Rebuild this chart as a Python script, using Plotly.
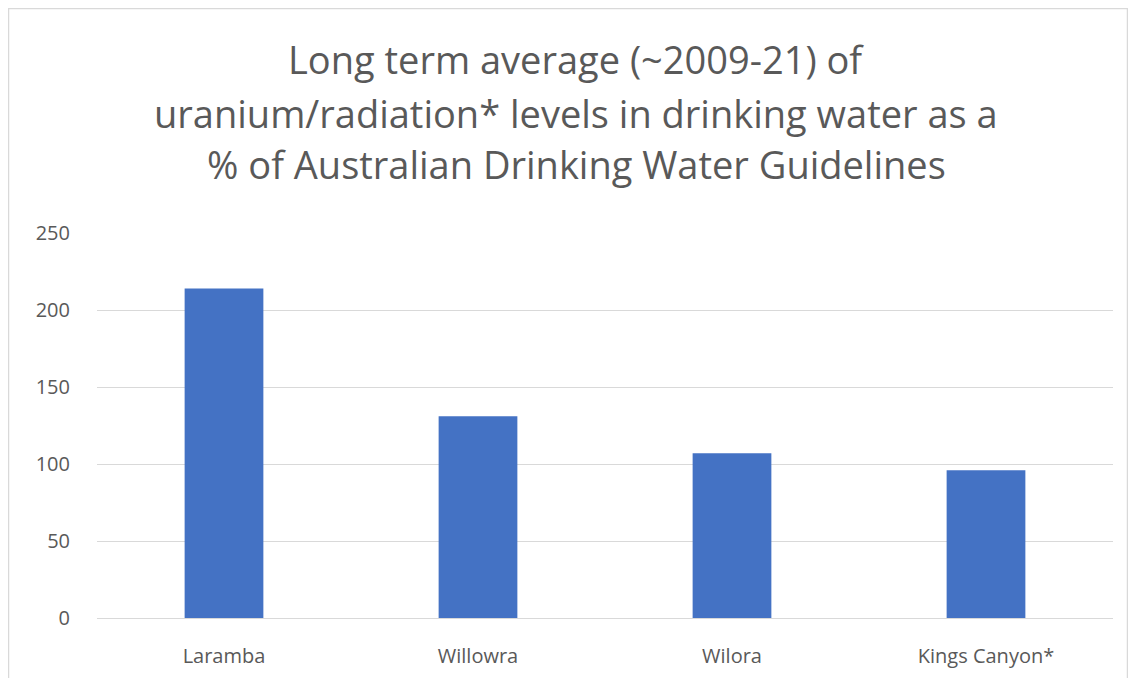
import plotly.graph_objects as go

categories = ["Laramba", "Willowra", "Wilora", "Kings Canyon*"]
values = [214, 131, 107, 96]
y_ticks = [0, 50, 100, 150, 200, 250]
title_lines = [
    "Long term average (~2009-21) of",
    "uranium/radiation* levels in drinking water as a",
    "% of Australian Drinking Water Guidelines",
]

# page body has an 8px margin, so figure is placed at (8, 8)
OFF = 8
W, H = 1120, 670
L, R, T, B = 97 - OFF, 15, 233 - OFF, 60
pw, ph = W - L - R, H - T - B

fig = go.Figure()
fig.add_trace(go.Bar(x=categories, y=values, marker=dict(color="#4472C4", line=dict(width=0)), width=0.31))

fig.update_layout(
    width=W, height=H,
    margin=dict(l=L, r=R, t=T, b=B),
    paper_bgcolor="white", plot_bgcolor="white",
    showlegend=False,
    font=dict(family="Open Sans", color="#595959"),
    xaxis=dict(showgrid=False, showline=False, ticks="", tickfont=dict(size=20, color="#595959"),
               ticklabelstandoff=24, fixedrange=True, automargin=False),
    yaxis=dict(range=[0, 250], tickvals=y_ticks, showgrid=True, gridcolor="#d9d9d9", gridwidth=1,
               zeroline=True, zerolinecolor="#d9d9d9", zerolinewidth=1, automargin=False,
               tickfont=dict(size=20, color="#595959"), ticks="", ticklabelstandoff=26),
)

# pixel helpers (page coordinates -> paper coordinates)
def px_x(p):
    return (p - OFF - L) / pw
def px_y(p):
    return (H - B - (p - OFF)) / ph

fig.add_shape(type="rect", xref="paper", yref="paper",
              x0=px_x(8.5), x1=px_x(1127.5), y0=px_y(700), y1=px_y(8.5),
              line=dict(color="#d9d9d9", width=1.5), fillcolor="rgba(0,0,0,0)", layer="below")

for line, yp in zip(title_lines, [59, 113, 164]):
    fig.add_annotation(text=line, xref="paper", yref="paper", x=px_x(576), y=px_y(yp),
                       xanchor="center", yanchor="middle", showarrow=False,
                       font=dict(size=38, color="#595959", family="Open Sans"))

fig.write_html("out.html")
